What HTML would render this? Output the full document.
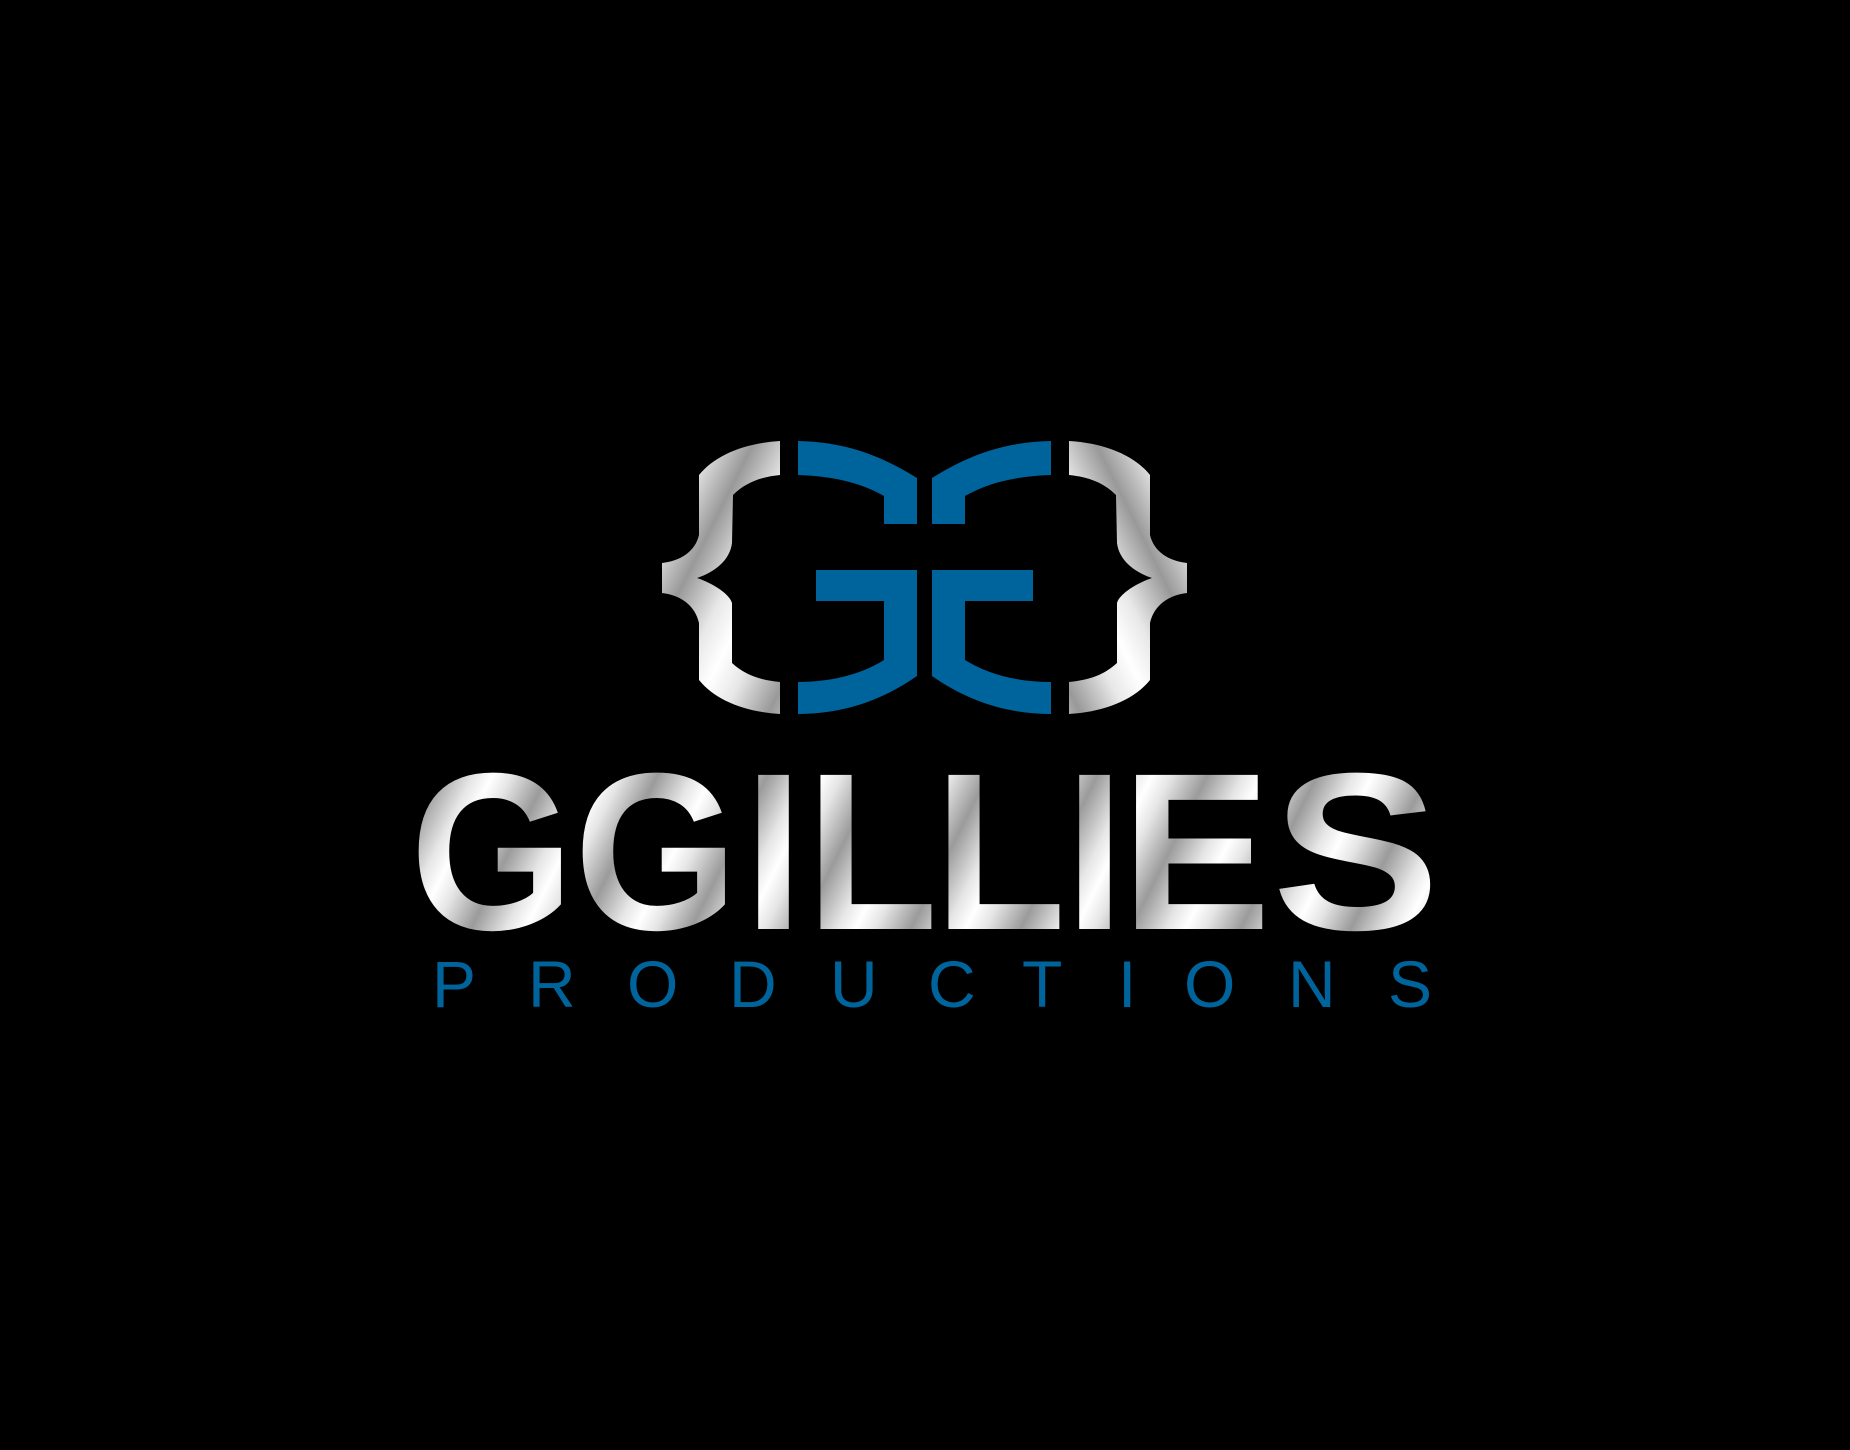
<!DOCTYPE html>
<html><head><meta charset="utf-8"><style>
html,body{margin:0;padding:0;background:#000;}
svg{display:block;}
</style></head><body>
<svg width="1850" height="1450" viewBox="0 0 1850 1450">
<defs>
<linearGradient id="silver" gradientUnits="userSpaceOnUse" x1="0" y1="0" x2="44" y2="22" spreadMethod="reflect">
<stop offset="0" stop-color="#ffffff"/>
<stop offset="0.35" stop-color="#e6e6e6"/>
<stop offset="1" stop-color="#9b9b9b"/>
</linearGradient>
<linearGradient id="silver2" gradientUnits="userSpaceOnUse" x1="0" y1="0" x2="60" y2="30" spreadMethod="reflect">
<stop offset="0" stop-color="#ffffff"/>
<stop offset="0.4" stop-color="#e8e8e8"/>
<stop offset="1" stop-color="#999999"/>
</linearGradient>
</defs>
<rect width="1850" height="1450" fill="#000"/>
<g>
<path fill="url(#silver2)" d="M780,441 L780,475 C760,477 745,483 733,495 L732,543 C730,560 715,572 697,578 C715,584 730,595 732,603 L732,663 C745,675 760,680 780,682 L780,714 C745,712 715,700 699,680 L699,623 C695,605 680,595 662,593 L662,563 C680,561 695,552 699,535 L699,475 C715,455 745,443 780,441 Z"/>
<path fill="url(#silver2)" transform="translate(1849,0) scale(-1,1)" d="M780,441 L780,475 C760,477 745,483 733,495 L732,543 C730,560 715,572 697,578 C715,584 730,595 732,603 L732,663 C745,675 760,680 780,682 L780,714 C745,712 715,700 699,680 L699,623 C695,605 680,595 662,593 L662,563 C680,561 695,552 699,535 L699,475 C715,455 745,443 780,441 Z"/>
<g fill="#00649c">
<path d="M798,441 C845,442 880,455 917,478 L917,524 L884,524 L884,496 C860,482 830,476 798,475 Z"/>
<path d="M816,570 L917,570 L917,676 C880,702 840,714 798,714 L798,682 C830,682 860,675 884,660 L884,601 L816,601 Z"/>
</g>
<g fill="#00649c" transform="translate(1849,0) scale(-1,1)">
<path d="M798,441 C845,442 880,455 917,478 L917,524 L884,524 L884,496 C860,482 830,476 798,475 Z"/>
<path d="M816,570 L917,570 L917,676 C880,702 840,714 798,714 L798,682 C830,682 860,675 884,660 L884,601 L816,601 Z"/>
</g>
</g>
<g font-family="'Liberation Sans', sans-serif" font-weight="bold" font-size="224" fill="url(#silver)">
<text x="410" y="929" textLength="164" lengthAdjust="spacingAndGlyphs">G</text>
<text x="574" y="929" textLength="164" lengthAdjust="spacingAndGlyphs">G</text>
<text x="744" y="929" textLength="59" lengthAdjust="spacingAndGlyphs">I</text>
<text x="806" y="929" textLength="132" lengthAdjust="spacingAndGlyphs">L</text>
<text x="934" y="929" textLength="132" lengthAdjust="spacingAndGlyphs">L</text>
<text x="1065" y="929" textLength="59" lengthAdjust="spacingAndGlyphs">I</text>
<text x="1121" y="929" textLength="150" lengthAdjust="spacingAndGlyphs">E</text>
<text x="1272" y="929" textLength="168" lengthAdjust="spacingAndGlyphs">S</text>
</g>
<g font-family="'Liberation Sans', sans-serif" font-weight="normal" font-size="66" fill="#00649c">
<text x="432" y="1007">P</text>
<text x="528" y="1007">R</text>
<text x="627" y="1007">O</text>
<text x="729" y="1007">D</text>
<text x="830" y="1007">U</text>
<text x="928" y="1007">C</text>
<text x="1022" y="1007">T</text>
<text x="1118" y="1007">I</text>
<text x="1184" y="1007">O</text>
<text x="1288" y="1007">N</text>
<text x="1388" y="1007">S</text>
</g>
</svg>
</body></html>
